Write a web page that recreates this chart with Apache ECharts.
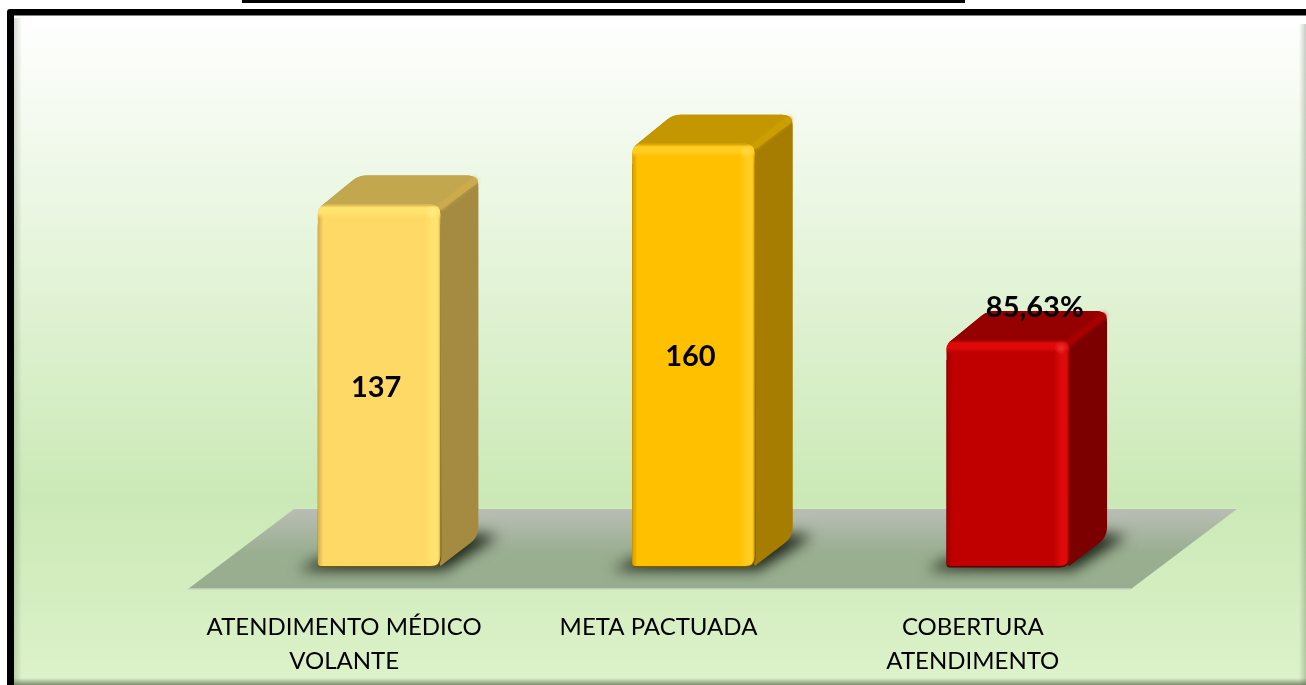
<!DOCTYPE html>
<html><head><meta charset="utf-8">
<style>html,body{margin:0;padding:0;background:#fff}#c{width:1306px;height:685px}</style>
<script src="https://cdn.jsdelivr.net/npm/echarts@6/dist/echarts.min.js"></script>
</head><body><div id="c"></div>
<script>
const categories = ['ATENDIMENTO MÉDICO\nVOLANTE', 'META PACTUADA', 'COBERTURA\nATENDIMENTO'];
const values = [137, 160, 85.63];
const valueLabels = ['137', '160', '85,63%'];
const frontColors = ['#FFD966', '#FFC000', '#C00000'];
const lightColors = ['#FFE36F', '#FFCE21', '#DE0A0A'];
const spotColors = ['#FFEC82', '#FFDB4A', '#F03030'];
const edgeColors = ['#D2AE4C', '#D29C00', '#980000'];
const topColors = ['#C3A74E', '#C49700', '#950000'];
const ridgeColors = ['#D0AE4E', '#D2A200', '#B00000'];
const sideColors = ['#A58B42', '#A67D00', '#7C0000'];
const baseColors = ['#6E5A20', '#7A5C00', '#5A0000'];

const W = 0.39, OFF = 0.108, DX = 38, DY = 29;
const labelShift = [[-3, 2], [-3, 2], [27, -32]];

echarts.graphic.registerShape('roundPoly', echarts.graphic.extendShape({
  shape: { pts: [], radii: [] },
  buildPath(ctx, s) {
    const n = s.pts.length;
    for (let k = 0; k < n; k++) {
      const p = s.pts[k], a = s.pts[(k + n - 1) % n], b = s.pts[(k + 1) % n], r = s.radii[k] || 0;
      const la = Math.hypot(a[0] - p[0], a[1] - p[1]), lb = Math.hypot(b[0] - p[0], b[1] - p[1]);
      const s1 = [p[0] + (a[0] - p[0]) * r / la, p[1] + (a[1] - p[1]) * r / la];
      const s2 = [p[0] + (b[0] - p[0]) * r / lb, p[1] + (b[1] - p[1]) * r / lb];
      if (k === 0) ctx.moveTo(s1[0], s1[1]); else ctx.lineTo(s1[0], s1[1]);
      ctx.quadraticCurveTo(p[0], p[1], s2[0], s2[1]);
    }
    ctx.closePath();
  }
}));

function renderFloor(params, api) {
  const cs = params.coordSys, y0 = api.coord([0, 0])[1];
  const l = cs.x, r = cs.x + cs.width, b = y0 + 23, t = y0 - 57, skew = 106;
  return { type: 'group', silent: true, children: [
    { type: 'polygon', shape: { points: [[l, b], [r, b], [r + skew, t], [l + skew, t]] },
      style: { fill: { type: 'linear', x: 0, y: 0, x2: 0, y2: 1, colorStops: [
        { offset: 0, color: '#B9BEB6' }, { offset: .55, color: '#9AAE90' }, { offset: 1, color: '#97AE8E' }] } } },
    { type: 'line', shape: { x1: l, y1: b, x2: r, y2: b }, style: { stroke: '#CDD3C8', lineWidth: 1.5 } }
  ] };
}

function renderBar(params, api) {
  const i = api.value(0), v = api.value(1);
  const band = api.size([1, 0])[0];
  const base = api.coord([i, 0]), top = api.coord([i, v]);
  const cx = base[0] + OFF * band, w = W * band;
  const x0 = cx - w / 2, x1 = cx + w / 2, yT = top[1], yB = base[1];
  const fill = frontColors[i], light = lightColors[i];
  const clear = echarts.color.modifyAlpha(fill, 0), clearSpot = echarts.color.modifyAlpha(spotColors[i], 0);
  const OUT = 3000;
  const frontPts = [[x0, yT], [x1, yT], [x1, yB], [x0, yB]];
  return { type: 'group', silent: true, children: [
    // soft ground shadow: only the blur of an off-screen shape lands on the floor
    { type: 'polygon', shape: { points: [[x0 - 20 - OUT, yB + 4], [x1 + 4 - OUT, yB + 4], [x1 + DX + 20 - OUT, yB - DY - 1], [x1 + DX - 4 - OUT, yB - DY - 3], [x0 - OUT, yB - 6]] },
      style: { fill: '#000', shadowBlur: 14, shadowColor: 'rgba(28,36,22,1)', shadowOffsetX: OUT } },
    // whole back silhouette in the side colour
    { type: 'roundPoly', shape: { pts: [[x0 + 3, yT + 2], [x0 + DX + 3, yT - DY], [x1 + DX, yT - DY], [x1 + DX, yB - DY], [x1, yB]], radii: [0, 8, 11, 10, 0] },
      style: { fill: sideColors[i] } },
    // top face
    { type: 'roundPoly', shape: { pts: [[x0 + 3, yT + 2], [x0 + DX + 3, yT - DY], [x1 + DX, yT - DY], [x1 + DX - 1, yT - DY + 8], [x1, yT + 5]], radii: [0, 8, 11, 2, 0] },
      style: { fill: topColors[i] } },
    // soft ridge between the top and side faces
    { type: 'line', shape: { x1: x1 + 1, y1: yT + 2, x2: x1 + DX - 4, y2: yT - DY + 5 },
      style: { stroke: ridgeColors[i], lineWidth: 7, opacity: .5, lineCap: 'round', shadowBlur: 4, shadowColor: ridgeColors[i] } },
    // dark base edge
    { type: 'roundPoly', shape: { pts: [[x0, yT + 20], [x1, yT + 20], [x1 + 1, yB + 1.5], [x0, yB + 1.5]], radii: [0, 0, 11, 3] },
      style: { fill: baseColors[i] } },
    // front face
    { type: 'roundPoly', shape: { pts: frontPts, radii: [10, 10, 10, 3] },
      style: { fill: { type: 'linear', x: 0, y: 0, x2: 1, y2: 0, colorStops: [
        { offset: 0, color: edgeColors[i] }, { offset: .045, color: fill }, { offset: .875, color: fill },
        { offset: .94, color: light }, { offset: .98, color: light }, { offset: 1, color: edgeColors[i] }] } } },
    // top bevel of front face
    { type: 'roundPoly', shape: { pts: [[x0, yT], [x1, yT], [x1, yT + 14], [x0, yT + 14]], radii: [10, 10, 0, 0] },
      style: { fill: { type: 'linear', x: 0, y: 0, x2: 0, y2: 1, colorStops: [
        { offset: 0, color: edgeColors[i] }, { offset: .22, color: light }, { offset: .6, color: light }, { offset: 1, color: clear }] } } },
    // highlight where the bevels meet
    { type: 'circle', shape: { cx: x1 - 8, cy: yT + 8, r: 7 },
      style: { fill: { type: 'radial', x: .5, y: .5, r: .5, colorStops: [{ offset: 0, color: spotColors[i] }, { offset: 1, color: clearSpot }] } } },
    // value label
    { type: 'text', style: { text: valueLabels[i], x: cx + labelShift[i][0], y: (yT + yB) / 2 + labelShift[i][1] - (i === 2 ? (yB - yT) / 2 : 0),
      align: 'center', verticalAlign: 'middle', font: 'bold 29px Lato', fill: '#000' } }
  ] };
}

const chart = echarts.init(document.getElementById('c'), null, { renderer: 'canvas' });
const shade = (x, y, x2, y2, sx, sy, sw, sh, c) => ({ type: 'rect', z: -8, shape: { x: sx, y: sy, width: sw, height: sh },
  style: { fill: { type: 'linear', x: x, y: y, x2: x2, y2: y2, colorStops: [{ offset: 0, color: c }, { offset: 1, color: echarts.color.modifyAlpha(c, 0) }] } } });
chart.setOption({
  animation: false,
  graphic: [
    { type: 'rect', z: -10, shape: { x: 242, y: 0, width: 723, height: 3 }, style: { fill: '#000' } },
    { type: 'rect', z: -10, shape: { x: 7, y: 9, width: 1299, height: 676, r: [3, 0, 0, 0] }, style: { fill: '#000' } },
    { type: 'rect', z: -9, shape: { x: 14, y: 15.5, width: 1292, height: 669.5 },
      style: { fill: { type: 'linear', x: 0, y: 0, x2: 0, y2: 1, colorStops: [
        { offset: 0, color: '#FFFFFF' }, { offset: .72, color: '#CBE9B6' }, { offset: 1, color: '#DDF2CA' }] } } },
    shade(0, 0, 1, 0, 14, 18, 8, 667, 'rgba(110,125,100,.28)'),
    shade(1, 0, 0, 0, 1299, 24, 7, 661, 'rgba(110,125,100,.38)'),
    shade(0, 1, 0, 0, 14, 678, 1292, 7, 'rgba(85,100,75,.7)')
  ],
  grid: { left: 188, right: 175, top: 91, bottom: 119, containLabel: false },
  xAxis: { type: 'category', data: categories,
    axisLine: { show: false }, axisTick: { show: false },
    axisLabel: { interval: 0, margin: 44, color: '#000', fontFamily: 'Lato', fontSize: 24, lineHeight: 34, padding: [0, 2, 0, 0] } },
  yAxis: { type: 'value', min: 0, max: 180, show: false, splitLine: { show: false } },
  series: [
    { type: 'custom', z: 1, coordinateSystem: 'cartesian2d', renderItem: renderFloor, data: [[0, 0]], clip: false },
    { type: 'custom', z: 2, coordinateSystem: 'cartesian2d', renderItem: renderBar, clip: false,
      encode: { x: 0, y: 1 }, data: values.map((v, i) => [i, v]) }
  ]
});
</script></body></html>
